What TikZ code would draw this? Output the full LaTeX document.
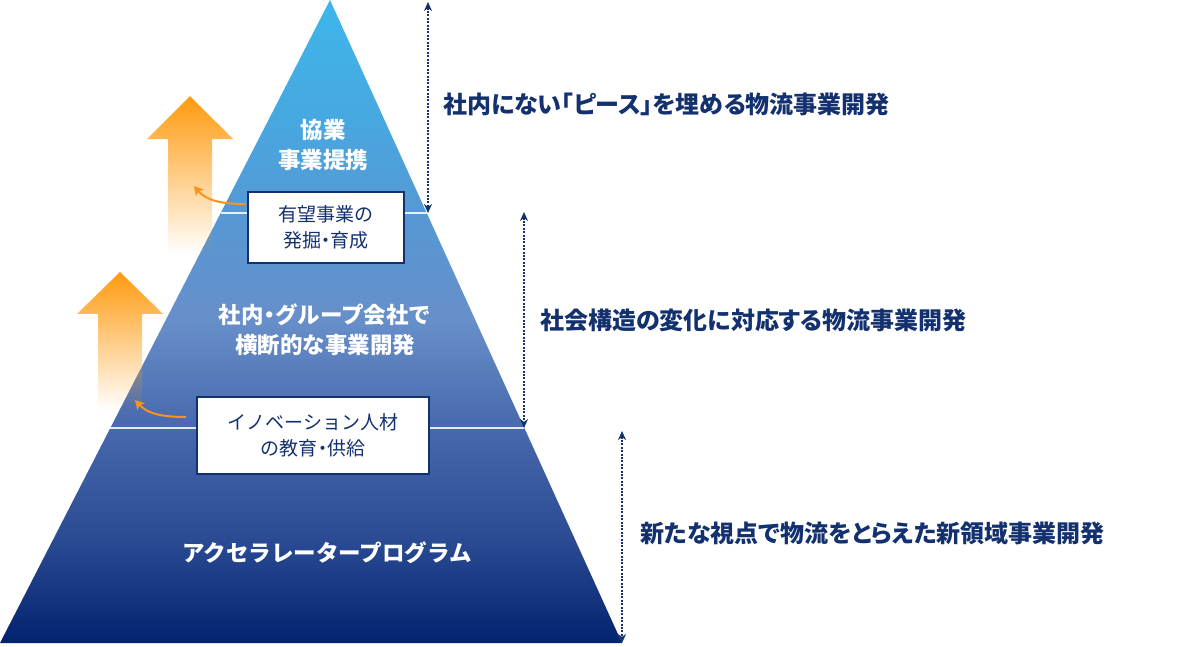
\documentclass[tikz,border=0pt]{standalone}
\usepackage{fontspec}
\newfontfamily\jp{Noto Sans CJK JP}
\newfontfamily\jpp[RawFeature=+palt]{Noto Sans CJK JP}
\usetikzlibrary{arrows.meta,fadings}
\definecolor{navy}{HTML}{13306F}
\definecolor{org}{HTML}{F7941D}
\definecolor{aorange}{HTML}{FF9A0E}
\definecolor{p0}{HTML}{03226F}
\definecolor{p1}{HTML}{2A4B93}
\definecolor{p2}{HTML}{4768AC}
\definecolor{p3}{HTML}{678FC9}
\definecolor{p4}{HTML}{5698D4}
\definecolor{p5}{HTML}{47A8E0}
\definecolor{p6}{HTML}{3DB6EB}
\pgfdeclareverticalshading{pyr}{100bp}{color(0bp)=(p0); color(25bp)=(p0); color(33bp)=(p1); color(41.6bp)=(p2); color(50.1bp)=(p3); color(58.3bp)=(p4); color(65.7bp)=(p5); color(75bp)=(p6); color(100bp)=(p6)}
\tikzfading[name=upfade, top color=transparent!0, middle color=transparent!35, bottom color=transparent!100]
\newcommand{\nd}{\kern-0.25em・\kern-0.25em}
\tikzset{
  ptext/.style={text=white, align=center, font=\jp\bfseries\fontsize{22.5}{30}\selectfont},
  boxnode/.style={draw=navy, line width=2, fill=white, text=navy, align=center, inner sep=0, font=\jp\fontsize{19}{26}\selectfont},
  rlabel/.style={text=navy, anchor=west, inner sep=0, font=\jpp\bfseries\fontsize{24}{27}\selectfont},
  dimarrow/.style={navy, line width=2.2, dash pattern=on 2pt off 1.4pt, {Stealth[length=9pt,width=8pt]}-{Stealth[length=9pt,width=8pt]}},
  sepline/.style={white, opacity=0.85, line width=1.2},
  bigarrow/.style={fill=aorange, path fading=upfade},
  smallarrow/.style={org, line width=2, -{Stealth[length=9pt,width=10pt,inset=2pt]}}
}
\begin{document}
\begin{tikzpicture}[x=1pt,y=-1pt]
\useasboundingbox (0,0) rectangle (1200,646);
% pyramid
\coordinate (apex) at (330,0);
\coordinate (bl) at (0,643);
\coordinate (br) at (622,643);
\shade[shading=pyr] (apex) -- (bl) -- (br) -- cycle;
% separator lines
\coordinate (s1l) at (221,213);
\coordinate (s1r) at (427,213);
\coordinate (s2l) at (109,428);
\coordinate (s2r) at (524,428);
\draw[sepline] (s1l) -- (s1r);
\draw[sepline] (s2l) -- (s2r);
% big orange arrows
\fill[bigarrow] (190,96) -- (233,139) -- (212,139) -- (212,254) -- (168,254) -- (168,139) -- (147,139) -- cycle;
\fill[bigarrow] (120,272) -- (163,314) -- (142,314) -- (142,410) -- (98,410) -- (98,314) -- (77,314) -- cycle;
% texts in pyramid
\node[ptext] (t1) at (323,145) {協業\\事業提携};
\node[ptext] (t2) at (325,330) {社内\nd グループ会社で\\横断的な事業開発};
\node[ptext] (t3) at (327,553) {アクセラレータープログラム};
% boxes
\node[boxnode, minimum width=156, minimum height=71] (b1) at (326,227.5) {有望事業の\\発掘\nd 育成};
\node[boxnode, minimum width=232, minimum height=77] (b2) at (313,435.5) {イノベーション人材\\の教育\nd 供給};
% small curved arrows
\coordinate (a1s) at (246,204);
\coordinate (a1e) at (194,186);
\coordinate (a2s) at (186,417);
\coordinate (a2e) at (135,400);
\draw[smallarrow] (a1s) .. controls (220,204) and (206,200) .. (a1e);
\draw[smallarrow] (a2s) .. controls (160,417) and (147,413) .. (a2e);
% dimension arrows
\coordinate (d1t) at (428,2);
\coordinate (d1b) at (428,213);
\coordinate (d2t) at (524,212);
\coordinate (d2b) at (524,428);
\coordinate (d3t) at (622,431);
\coordinate (d3b) at (622,643);
\draw[dimarrow] (d1t) -- (d1b);
\draw[dimarrow] (d2t) -- (d2b);
\draw[dimarrow] (d3t) -- (d3b);
% labels
\node[rlabel] (l1) at (443,104) {社内にない「ピース」を埋める物流事業開発};
\node[rlabel] (l2) at (540,320) {社会構造の変化に対応する物流事業開発};
\node[rlabel] (l3) at (640,533) {新たな視点で物流をとらえた新領域事業開発};
\end{tikzpicture}
\end{document}
